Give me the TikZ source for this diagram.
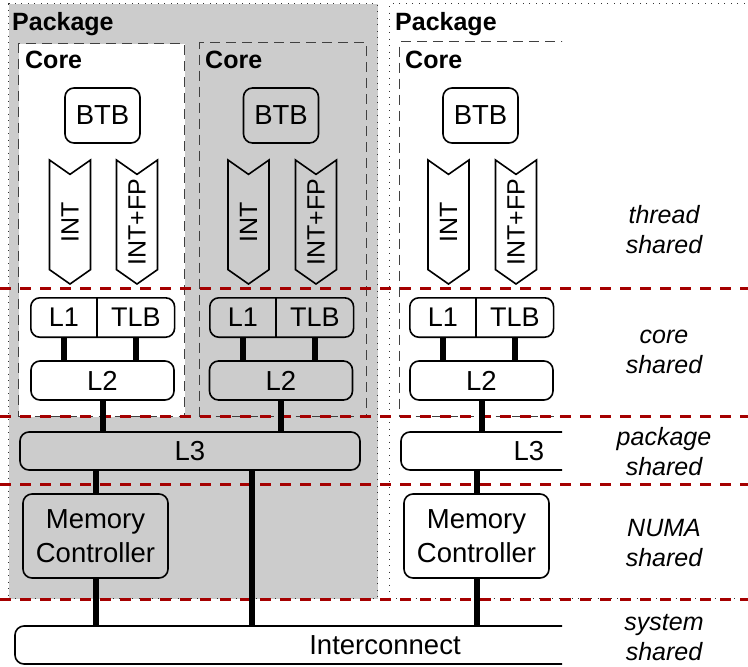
\documentclass[tikz,border=0pt]{standalone}
\usepackage{fontspec}
\setmainfont{Liberation Sans}
\usetikzlibrary{positioning}
\usetikzlibrary{shapes.symbols}
\definecolor{pkggray}{gray}{0.8}
\definecolor{sharered}{RGB}{165,0,0}

\begin{document}
\begin{tikzpicture}[x=1pt,y=-1pt,
    box/.style={draw,line width=1.6pt,rounded corners=9pt,align=center,inner sep=0pt,font=\fontsize{27.5}{34}\selectfont},
    half/.style={inner sep=0pt,minimum height=39pt,font=\fontsize{27}{31}\selectfont},
    pipe/.style={draw,line width=1.6pt,shape=signal,signal to=west,signal from=east,signal pointer angle=110,rotate=90,minimum width=124pt,minimum height=41pt,inner sep=0pt,font=\fontsize{25}{28}\selectfont},
    bus/.style={line width=6pt},
    sharline/.style={draw=sharered,line width=3pt,dash pattern=on 11pt off 9pt},
    corebox/.style={draw=black!75,line width=1.1pt,dash pattern=on 10pt off 6pt,anchor=north west,inner sep=0pt},
    pkgbox/.style={draw=black!80,line width=1pt,dash pattern=on 1pt off 5.5pt,anchor=north west,inner sep=0pt},
    pkglabel/.style={anchor=base west,inner sep=0pt,font=\fontsize{25}{30}\selectfont\bfseries},
    share/.style={align=center,font=\fontsize{25}{30}\selectfont\itshape}]
  \useasboundingbox (0,0) rectangle (748,667);

  % packages and cores
  \node[pkgbox,fill=pkggray,minimum width=369pt,minimum height=595pt] (pkga) at (8,3) {};
  \begin{scope}
    \clip (0,0) rectangle (748,667);
    \node[pkgbox,minimum width=400pt,minimum height=595pt] (pkgb) at (389,3) {};
  \end{scope}
  \node[corebox,fill=white,minimum width=166pt,minimum height=373pt] (corea) at (18,43) {};
  \node[corebox,minimum width=167pt,minimum height=374pt] (coreb) at (199,42) {};
  \begin{scope}
    \clip (0,0) rectangle (562,667);
    \node[corebox,minimum width=170pt,minimum height=375pt] (corec) at (399,41) {};
  \end{scope}
  \node[pkglabel] at (12,30) {Package};
  \node[pkglabel] at (395,30) {Package};
  \node[pkglabel] at (25,68) {Core};
  \node[pkglabel] at (205,68) {Core};
  \node[pkglabel] at (405,68) {Core};

  % sharing levels
  \draw[sharline] (0,288) -- (748,288);
  \draw[sharline] (0,416) -- (748,416);
  \draw[sharline] (0,484) -- (748,484);
  \draw[sharline] (0,599) -- (748,599);
  \node[share] (thr) at (664,230) {thread\\shared};
  \node[share] (cor) at (664,352) {core\\shared};
  \node[share] (pkg) at (664,452) {package\\shared};
  \node[share] (numa) at (664,543) {NUMA\\shared};
  \node[share] (sys) at (664,638) {system\\shared};

  % first core
  \node[box,fill=white,minimum width=75pt,minimum height=55pt] (btba) at (102.5,115.5) {BTB};
  \node[pipe,fill=white] (inta) at (70,222) {INT};
  \node[pipe,fill=white] (fpa) at (137,222) {INT+FP};
  \node[half,minimum width=66pt] (l1a) at (64,317.5) {L1};
  \node[half,minimum width=77pt,right=0pt of l1a] (tlba) {TLB};
  \draw[box] (l1a.north west) rectangle (tlba.south east);
  \draw[line width=1.6pt] (l1a.north east) -- (l1a.south east);
  \node[box,fill=white,minimum width=143pt,minimum height=39pt] (l2a) at (102.5,380.5) {L2};

  % second core
  \node[box,fill=pkggray,minimum width=75pt,minimum height=55pt] (btbb) at (281,115.5) {BTB};
  \node[pipe,fill=pkggray] (intb) at (248.5,222) {INT};
  \node[pipe,fill=pkggray] (fpb) at (316,222) {INT+FP};
  \node[half,minimum width=66pt] (l1b) at (243,317.5) {L1};
  \node[half,minimum width=77pt,right=0pt of l1b] (tlbb) {TLB};
  \draw[box] (l1b.north west) rectangle (tlbb.south east);
  \draw[line width=1.6pt] (l1b.north east) -- (l1b.south east);
  \node[box,fill=pkggray,minimum width=143pt,minimum height=39pt] (l2b) at (281,380.5) {L2};

  % third core
  \node[box,fill=white,minimum width=75pt,minimum height=55pt] (btbc) at (480.5,115.5) {BTB};
  \node[pipe,fill=white] (intc) at (448.5,222) {INT};
  \node[pipe,fill=white] (fpc) at (516,222) {INT+FP};
  \node[half,minimum width=66pt] (l1c) at (443,317.5) {L1};
  \node[half,minimum width=77pt,right=0pt of l1c] (tlbc) {TLB};
  \draw[box] (l1c.north west) rectangle (tlbc.south east);
  \draw[line width=1.6pt] (l1c.north east) -- (l1c.south east);
  \node[box,fill=white,minimum width=143pt,minimum height=39pt] (l2c) at (481.5,380.5) {L2};

  % uncore
  \node[box,fill=pkggray,minimum width=340pt,minimum height=38pt] (l3a) at (190,451) {L3};
  \node[box,fill=pkggray,minimum width=145pt,minimum height=84pt] (mca) at (95.5,536) {Memory\\Controller};
  \node[box,fill=white,minimum width=145pt,minimum height=84pt] (mcb) at (476.5,536) {Memory\\Controller};
  \begin{scope}
    \clip (0,0) rectangle (562,667);
    \node[box,fill=white,minimum width=256pt,minimum height=38pt] (l3b) at (529,451) {L3};
    \node[box,fill=white,minimum width=740pt,minimum height=38pt] (ic) at (385,645) {Interconnect};
  \end{scope}
  \coordinate (tap) at (252,470);

  \path[bus] (l1a.south) edge (l1a.south |- l2a.north)
    (tlba.south) edge (tlba.south |- l2a.north)
    (l2a.south) edge (l2a.south |- l3a.north);
  \path[bus] (l1b.south) edge (l1b.south |- l2b.north)
    (tlbb.south) edge (tlbb.south |- l2b.north)
    (l2b.south) edge (l2b.south |- l3a.north);
  \path[bus] (l1c.south) edge (l1c.south |- l2c.north)
    (tlbc.south) edge (tlbc.south |- l2c.north)
    (l2c.south) edge (l2c.south |- l3b.north);
  \path[bus] (mca.north) edge (mca.north |- l3a.south)
    (mca.south) edge (mca.south |- ic.north)
    (tap) edge (tap |- ic.north);
  \path[bus] (mcb.north) edge (mcb.north |- l3b.south)
    (mcb.south) edge (mcb.south |- ic.north);
\end{tikzpicture}
\end{document}
